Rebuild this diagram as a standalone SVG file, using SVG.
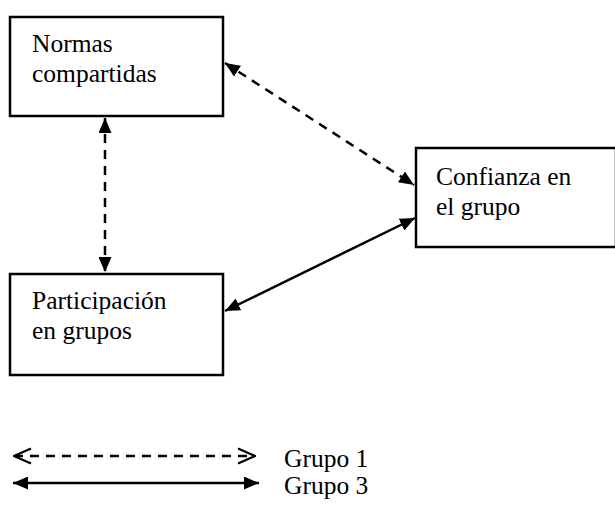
<svg xmlns="http://www.w3.org/2000/svg" width="615" height="506" viewBox="0 0 615 506">
<style>
.box{fill:#fff;stroke:#000;stroke-width:2.5}
text{font-family:'Liberation Serif','Times New Roman',Times,serif;font-size:25.5px;fill:#000}
.c{stroke:#000;stroke-width:2.5;fill:none}
.d{stroke-dasharray:9,7}
</style>
<defs>
<marker id="fa" viewBox="0 0 15 13" refX="15" refY="6.5" markerWidth="15" markerHeight="13" markerUnits="userSpaceOnUse" orient="auto-start-reverse">
<path d="M0,0 L15,6.5 L0,13 Z" fill="#000"/>
</marker>
<marker id="oa" viewBox="0 0 19 18" refX="18" refY="9" markerWidth="19" markerHeight="18" markerUnits="userSpaceOnUse" orient="auto-start-reverse">
<path d="M1,1.5 L18,9 L1,16.5" fill="none" stroke="#000" stroke-width="2"/>
</marker>
</defs>
<g id="normas">
<rect class="box" x="10" y="17" width="213" height="99"/>
<text x="32" y="52">Normas</text>
<text x="32" y="82">compartidas</text>
</g>
<g id="confianza">
<rect class="box" x="416" y="148" width="200" height="99"/>
<text x="436" y="185">Confianza en</text>
<text x="436" y="215">el grupo</text>
</g>
<g id="participacion">
<rect class="box" x="10" y="274" width="213" height="101"/>
<text x="32" y="309">Participación</text>
<text x="32" y="339">en grupos</text>
</g>
<g id="connectors">
<line class="c d" x1="105" y1="118" x2="105" y2="272" marker-start="url(#fa)" marker-end="url(#fa)"/>
<line class="c d" x1="225" y1="63" x2="414" y2="185" marker-start="url(#fa)" marker-end="url(#fa)"/>
<line class="c" x1="225" y1="311" x2="415" y2="218" marker-start="url(#fa)" marker-end="url(#fa)"/>
</g>
<g id="legend">
<line class="c d" x1="14" y1="456" x2="255" y2="456" marker-start="url(#oa)" marker-end="url(#oa)"/>
<text x="284" y="467">Grupo 1</text>
<line class="c" x1="13" y1="483" x2="259" y2="483" marker-start="url(#fa)" marker-end="url(#fa)"/>
<text x="284" y="494">Grupo 3</text>
</g>
</svg>
